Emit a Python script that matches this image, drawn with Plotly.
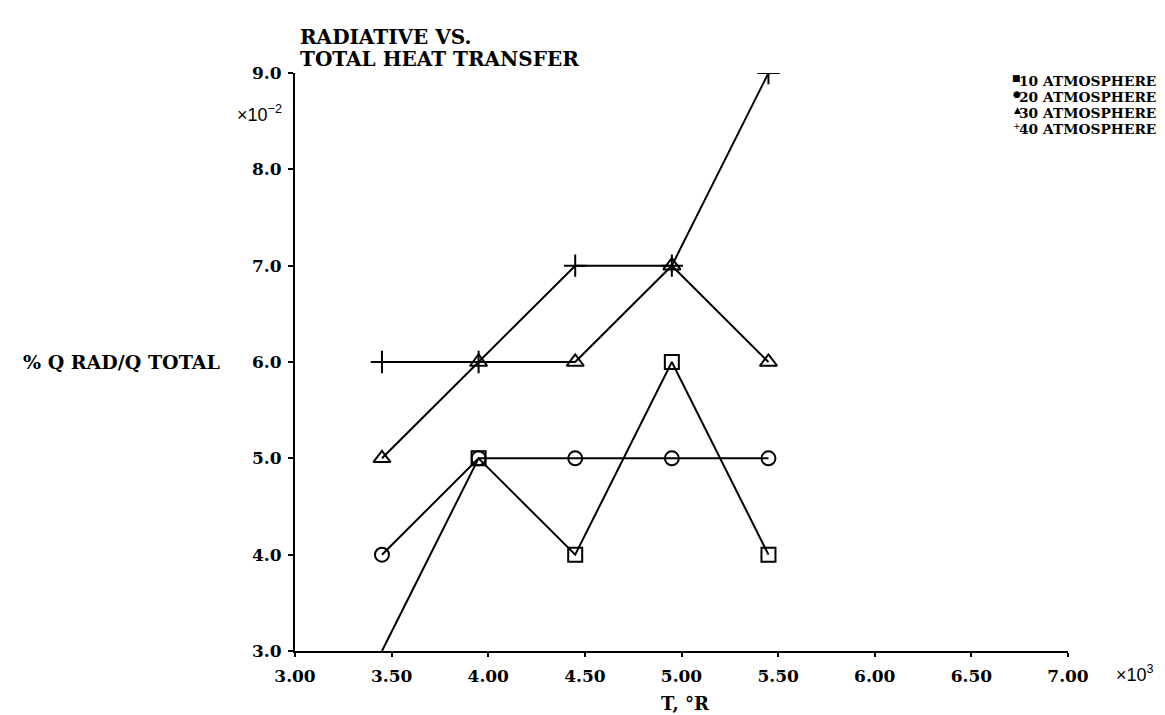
import plotly.graph_objects as go

# ---- data ----
temps = [3.45, 3.95, 4.45, 4.95, 5.45]          # T, °R  (x10^3)
atm10 = [3.0, 5.0, 4.0, 6.0, 4.0]               # % Q rad / Q total (x10^-2)
atm20 = [4.0, 5.0, 5.0, 5.0, 5.0]
atm30 = [5.0, 6.0, 6.0, 7.0, 6.0]
atm40 = [6.0, 6.0, 7.0, 7.0, 9.0]
series_names = ["10 ATMOSPHERES", "20 ATMOSPHERES", "30 ATMOSPHERES", "40 ATMOSPHERES"]
legend_glyphs = ["■", "●", "▲", "+"]
x_ticks = [3.0, 3.5, 4.0, 4.5, 5.0, 5.5, 6.0, 6.5, 7.0]
x_ticktext = ["3.00", "3.50", "4.00", "4.50", "5.00", "5.50", "6.00", "6.50", "7.00"]
y_ticks = [3.0, 4.0, 5.0, 6.0, 7.0, 8.0, 9.0]
y_ticktext = ["3.0", "4.0", "5.0", "6.0", "7.0", "8.0", "9.0"]

W, H = 1165, 715
L, R, T, B = 287, 105, 65, 72
PW, PH = W - L - R, H - T - B

def px(xp):
    return (xp - L) / PW

def py(yp):
    return (H - B - yp) / PH

SERIF = "DejaVu Serif"
SANS = "Liberation Sans, Arial, sans-serif"
YMIN = 3.0

fig = go.Figure()
symbols = ["square-open", "circle-open", "triangle-up-open", "cross-thin-open"]
sizes = [14, 14, 15, 16]
all_series = [atm10, atm20, atm30, atm40]
for name, vals, sym, sz in zip(series_names, all_series, symbols, sizes):
    # a point lying on the bottom axis boundary is drawn without its symbol
    opac = [0 if v <= YMIN else 1 for v in vals]
    fig.add_trace(go.Scatter(
        x=temps, y=vals, name=name, mode="lines+markers", showlegend=False,
        line=dict(color="black", width=2),
        marker=dict(symbol=sym, size=sz, color="black", opacity=opac,
                    line=dict(color="black", width=2)),
        cliponaxis=True,
    ))

fig.update_layout(
    width=W, height=H,
    margin=dict(l=L, r=R, t=T, b=B, autoexpand=False),
    paper_bgcolor="white", plot_bgcolor="white",
    showlegend=False,
    font=dict(family=SERIF, color="black"),
)
fig.update_xaxes(range=[3.0, 7.0], tickvals=x_ticks, ticktext=x_ticktext,
                 showgrid=False, zeroline=False, showline=True, linecolor="black",
                 linewidth=2, ticks="outside", ticklen=4, tickwidth=1.5, tickcolor="black",
                 ticklabelstandoff=5,
                 tickfont=dict(family=SERIF, size=17, color="black", weight="bold"))
fig.update_yaxes(range=[3.0, 9.0], tickvals=y_ticks, ticktext=y_ticktext,
                 showgrid=False, zeroline=False, showline=True, linecolor="black",
                 linewidth=2, ticks="outside", ticklen=5, tickwidth=1.5, tickcolor="black",
                 ticklabelstandoff=3,
                 tickfont=dict(family=SERIF, size=17, color="black", weight="bold"))

ann = [
    dict(text="RADIATIVE VS.", x=px(290), y=py(29), xanchor="left", yanchor="middle",
         font=dict(family=SERIF, size=20, color="black", weight="bold")),
    dict(text="TOTAL HEAT TRANSFER", x=px(290), y=py(51), xanchor="left", yanchor="middle",
         font=dict(family=SERIF, size=20, color="black", weight="bold")),
    dict(text="×10<sup>−2</sup>", x=px(276), y=py(106), xanchor="right", yanchor="middle",
         font=dict(family=SANS, size=18, color="black")),
    dict(text="% Q RAD/Q TOTAL", x=px(13), y=py(354), xanchor="left", yanchor="middle",
         font=dict(family=SERIF, size=19, color="black", weight="bold")),
    dict(text="T, °R", x=px(677), y=py(695), xanchor="center", yanchor="middle",
         font=dict(family=SERIF, size=18, color="black", weight="bold")),
    dict(text="×10<sup>3</sup>", x=px(1106), y=py(665), xanchor="left", yanchor="middle",
         font=dict(family=SANS, size=18, color="black")),
]
leg_y = [73, 89, 105, 121]
for name, glyph, yy in zip(series_names, legend_glyphs, leg_y):
    ann.append(dict(text=name, x=px(1160), y=py(yy), xanchor="right", yanchor="middle",
                    font=dict(family=SERIF, size=13.8, color="black", weight="bold")))
    ann.append(dict(text=glyph, x=px(1015), y=py(yy - 3), xanchor="right", yanchor="middle",
                    font=dict(family="DejaVu Sans", size=9, color="black")))
for a in ann:
    fig.add_annotation(xref="paper", yref="paper", showarrow=False, **a)

fig.write_html("out.html")
